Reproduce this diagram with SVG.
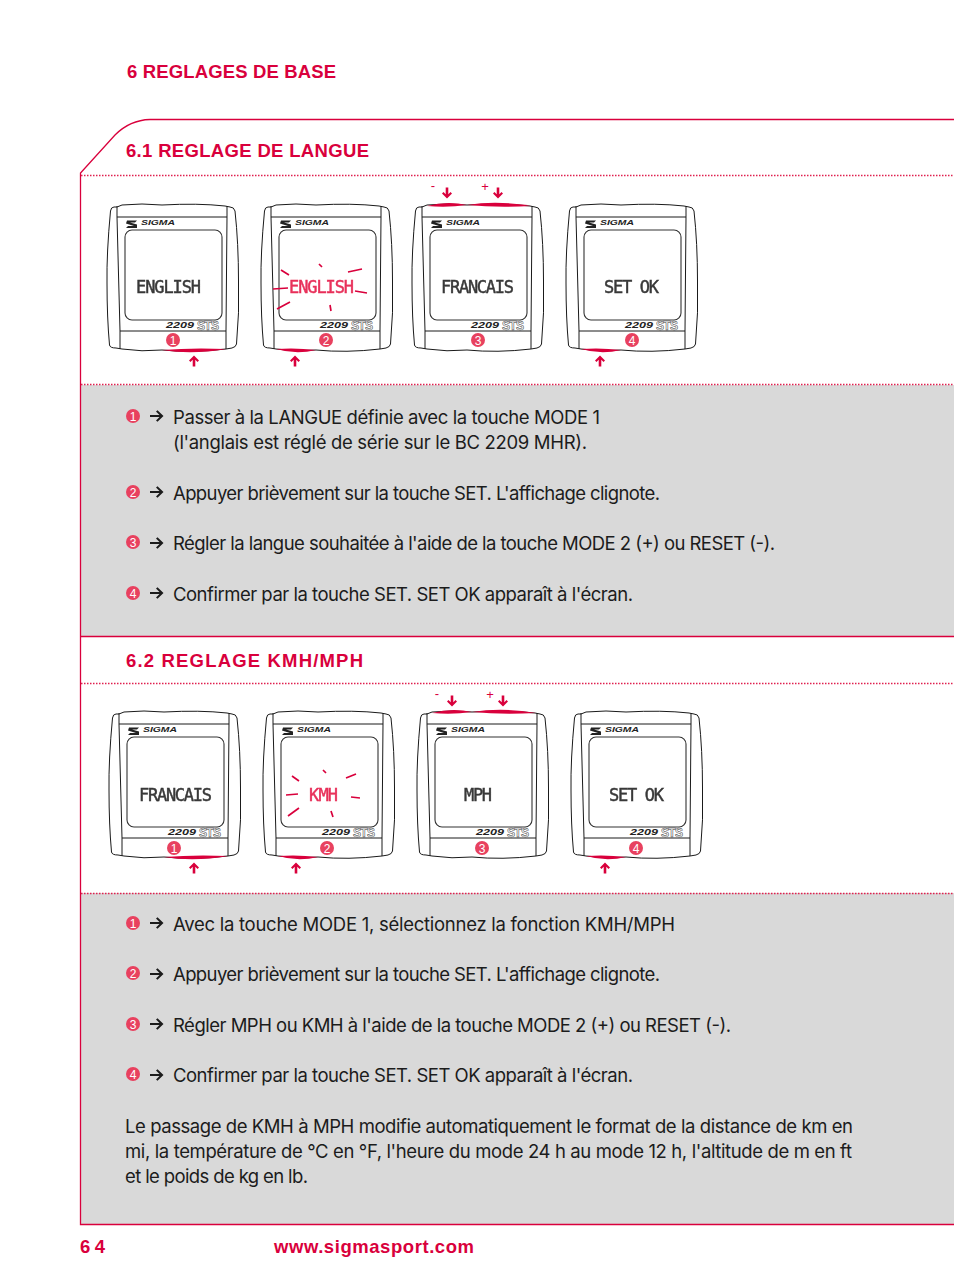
<svg xmlns="http://www.w3.org/2000/svg" width="954" height="1273" viewBox="0 0 954 1273">
<style>
text{font-family:"Inter","Liberation Sans",sans-serif}
.b{font-size:18.5px;fill:#1c1c1c}
.h{font-size:18.500px;font-weight:700;fill:#d9003c;font-family:"Liberation Sans",sans-serif}
.l{fill:none;stroke:#1a1a1a;stroke-width:1}
.s{fill:none;stroke:#333;stroke-width:1.1}
.r{fill:none;stroke:#d9003c;stroke-width:1.3}
.d{fill:none;stroke:#e0204f;stroke-width:1.500;stroke-dasharray:1.5 1.500}
.lcd{font-family:"DejaVu Sans Mono",monospace;font-size:17px;fill:#383838;stroke:#383838;stroke-width:.45;filter:url(#soft)}
.red{fill:#e8305a;stroke:#e8305a}
.sig{font-family:"Liberation Sans",sans-serif;font-size:7.500px;font-style:italic;font-weight:700;fill:#222}
.mod{font-family:"Liberation Sans",sans-serif;font-size:9.500px;font-style:italic;font-weight:700;fill:#222}
.sts{font-family:"Liberation Sans",sans-serif;font-size:12px;font-weight:700;fill:#fff;stroke:#333;stroke-width:.5}
.cn{font-family:"Liberation Sans",sans-serif;font-size:12px;fill:#fff;text-anchor:middle}
.c{fill:#e8415f}
.ray{fill:none;stroke:#d9003c;stroke-width:1.700}
.sign{font-size:13px;fill:#d9003c;text-anchor:middle;font-family:"Liberation Sans",sans-serif}
</style>
<defs>
<filter id="soft" x="-5%" y="-20%" width="110%" height="140%"><feGaussianBlur stdDeviation=".45"/></filter>
<g id="body">
<path class="l" d="M9,4 L6,4 Q3,4 2.500,8 Q-1.500,50 -1,80 Q-1,115 1.500,142 Q2,145 8,145 L14,146 Q34,149 54,147 Q84,150 118,146 L124,145 Q128,144 128.500,141 Q131.500,110 130.500,78 Q130.500,40 127,8 Q126,4 122,4 L117,3 Q90,0 54,2 Q34,0 14,2 L9,4"/>
<path class="l" d="M9,3 L9,14 L12,128 L12,146 M119,3 L119,14 L118,128 L118,146 M9,14 H119 M12,128 H118"/>
<rect class="s" x="17" y="27" width="97" height="90" rx="7"/>
<path d="M19,17.500 h10 l-2,2 h-5 l7,2 v3.500 h-11 l2,-2 h6 l-8,-2.500z" fill="#222"/>
</g>
<path id="up" d="M0,-5.500 L5,-.5 L3.500,1 L1.300,-1.200 V5.500 H-1.300 V-1.200 L-3.500,1 L-5,-.5Z" fill="#d9003c"/>
<path id="dn" d="M0,5.500 L5,.5 L3.500,-1 L1.300,1.200 V-5.500 H-1.300 V1.200 L-3.500,-1 L-5,.5Z" fill="#d9003c"/>
<path id="ar" d="M-1,-1 H8.500 L5,-4.500 L6.500,-5.800 L12.500,0 L6.500,5.800 L5,4.500 L8.500,1 H-1Z" fill="#1c1c1c"/>
<path id="tl" d="M14,3 Q34,-2.500 54,2 Q34,5 14,3Z" fill="#d9003c"/>
<path id="tr" d="M54,2 Q84,-3 118,3 Q84,5 54,2Z" fill="#d9003c"/>
<path id="bl" d="M14,146 Q34,152 54,147 Q34,144.500 14,146Z" fill="#d9003c"/>
<path id="br" d="M54,147 Q84,152 118,146 Q84,144.500 54,147Z" fill="#d9003c"/>
</defs>

<rect x="81" y="385" width="873" height="251" fill="#d9d9d9"/>
<rect x="81" y="893" width="873" height="331" fill="#d9d9d9"/>

<g id="frame">
<path class="r" d="M954,119.500 H150 Q130,120 115,135 L80.500,173 V1224.500 H954"/>
<path class="r" d="M81,636.500 H954" stroke-width="1.800"/>
<path class="d" d="M81,175.500 H954 M81,384.500 H954 M81,683.500 H954 M81,893.500 H954"/>
</g>

<text class="h" x="127" y="78" textLength="209">6 REGLAGES DE BASE</text>
<text class="h" x="126" y="157" textLength="243">6.1 REGLAGE DE LANGUE</text>
<text class="h" x="126" y="667" textLength="237">6.2 REGLAGE KMH/MPH</text>

<g id="d11" transform="translate(108,203)"><use href="#body"/><text class="sig" x="33" y="22" textLength="34" lengthAdjust="spacingAndGlyphs">SIGMA</text><text class="mod" x="58" y="125" textLength="28" lengthAdjust="spacingAndGlyphs">2209</text><text class="sts" x="89" y="127" textLength="22">STS</text><text class="lcd" x="28" y="90" textLength="65">ENGLISH</text>
<use href="#br"/><circle class="c" cx="65" cy="137" r="7"/><text class="cn" x="65" y="141.500">1</text></g>
<g id="d12" transform="translate(262,203)"><use href="#body"/><text class="sig" x="33" y="22" textLength="34" lengthAdjust="spacingAndGlyphs">SIGMA</text><text class="mod" x="58" y="125" textLength="28" lengthAdjust="spacingAndGlyphs">2209</text><text class="sts" x="89" y="127" textLength="22">STS</text><text class="lcd red" x="27" y="90" textLength="65">ENGLISH</text>
<use href="#bl"/><circle class="c" cx="64" cy="137" r="7"/><text class="cn" x="64" y="141.500">2</text></g>
<g id="d13" transform="translate(413,203)"><use href="#body"/><text class="sig" x="33" y="22" textLength="34" lengthAdjust="spacingAndGlyphs">SIGMA</text><text class="mod" x="58" y="125" textLength="28" lengthAdjust="spacingAndGlyphs">2209</text><text class="sts" x="89" y="127" textLength="22">STS</text><text class="lcd" x="28" y="90" textLength="73">FRANCAIS</text>
<use href="#tl"/><use href="#tr"/><circle class="c" cx="65" cy="137" r="7"/><text class="cn" x="65" y="141.500">3</text></g>
<g id="d14" transform="translate(567,203)"><use href="#body"/><text class="sig" x="33" y="22" textLength="34" lengthAdjust="spacingAndGlyphs">SIGMA</text><text class="mod" x="58" y="125" textLength="28" lengthAdjust="spacingAndGlyphs">2209</text><text class="sts" x="89" y="127" textLength="22">STS</text><text class="lcd" x="37" y="90" textLength="55">SET OK</text>
<use href="#bl"/><circle class="c" cx="65" cy="137" r="7"/><text class="cn" x="65" y="141.500">4</text></g>

<g id="d21" transform="translate(110,710)"><use href="#body"/><text class="sig" x="33" y="22" textLength="34" lengthAdjust="spacingAndGlyphs">SIGMA</text><text class="mod" x="58" y="125" textLength="28" lengthAdjust="spacingAndGlyphs">2209</text><text class="sts" x="89" y="127" textLength="22">STS</text><text class="lcd" x="29" y="91" textLength="73">FRANCAIS</text>
<use href="#br"/><circle class="c" cx="64" cy="138" r="7"/><text class="cn" x="64" y="142.500">1</text></g>
<g id="d22" transform="translate(264,710)"><use href="#body"/><text class="sig" x="33" y="22" textLength="34" lengthAdjust="spacingAndGlyphs">SIGMA</text><text class="mod" x="58" y="125" textLength="28" lengthAdjust="spacingAndGlyphs">2209</text><text class="sts" x="89" y="127" textLength="22">STS</text><text class="lcd red" x="45" y="91" textLength="29">KMH</text>
<use href="#bl"/><circle class="c" cx="63" cy="138" r="7"/><text class="cn" x="63" y="142.500">2</text></g>
<g id="d23" transform="translate(418,710)"><use href="#body"/><text class="sig" x="33" y="22" textLength="34" lengthAdjust="spacingAndGlyphs">SIGMA</text><text class="mod" x="58" y="125" textLength="28" lengthAdjust="spacingAndGlyphs">2209</text><text class="sts" x="89" y="127" textLength="22">STS</text><text class="lcd" x="46" y="91" textLength="28">MPH</text>
<use href="#tl"/><use href="#tr"/><circle class="c" cx="64" cy="138" r="7"/><text class="cn" x="64" y="142.500">3</text></g>
<g id="d24" transform="translate(572,710)"><use href="#body"/><text class="sig" x="33" y="22" textLength="34" lengthAdjust="spacingAndGlyphs">SIGMA</text><text class="mod" x="58" y="125" textLength="28" lengthAdjust="spacingAndGlyphs">2209</text><text class="sts" x="89" y="127" textLength="22">STS</text><text class="lcd" x="37" y="91" textLength="55">SET OK</text>
<use href="#bl"/><circle class="c" cx="64" cy="138" r="7"/><text class="cn" x="64" y="142.500">4</text></g>

<g id="flash">
<path class="ray" d="M281,270 L289,275 M319,264 L322,267 M348,272 L362,269 M273,289 L288,288 M355,291 L367,293 M277,309 L290,302 M330,305 L331,311"/>
<path class="ray" d="M292,776 L299,781 M323,770 L326,773 M346,778 L356,774 M286,795 L298,794 M351,797 L360,798 M288,816 L299,808 M331,811 L333,817"/>
</g>

<g id="connectors">
<use href="#up" x="194" y="361"/><use href="#up" x="295" y="361"/><use href="#up" x="600" y="361"/>
<use href="#up" x="194" y="868"/><use href="#up" x="296" y="868"/><use href="#up" x="605" y="868"/>
<use href="#dn" x="447" y="193"/><use href="#dn" x="498" y="193"/>
<use href="#dn" x="452" y="701"/><use href="#dn" x="503" y="701"/>
</g>
<text class="sign" x="433" y="190">-</text><text class="sign" x="485" y="191">+</text>
<text class="sign" x="437" y="698">-</text><text class="sign" x="490" y="699">+</text>

<g id="steps1">
<circle class="c" cx="133" cy="416" r="7"/><text class="cn" x="133" y="420.500">1</text><use href="#ar" x="151" y="416"/>
<text class="b" x="173" y="424" textLength="427">Passer à la LANGUE définie avec la touche MODE 1</text>
<text class="b" x="173" y="449" textLength="414">(l'anglais est réglé de série sur le BC 2209 MHR).</text>
<circle class="c" cx="133" cy="492" r="7"/><text class="cn" x="133" y="496.500">2</text><use href="#ar" x="151" y="492"/>
<text class="b" x="173" y="500" textLength="487">Appuyer brièvement sur la touche SET. L'affichage clignote.</text>
<circle class="c" cx="133" cy="542" r="7"/><text class="cn" x="133" y="546.500">3</text><use href="#ar" x="151" y="543"/>
<text class="b" x="173" y="550" textLength="602">Régler la langue souhaitée à l'aide de la touche MODE 2 (+) ou RESET (-).</text>
<circle class="c" cx="133" cy="593" r="7"/><text class="cn" x="133" y="597.500">4</text><use href="#ar" x="151" y="593"/>
<text class="b" x="173" y="601" textLength="460">Confirmer par la touche SET. SET OK apparaît à l'écran.</text>
</g>
<g id="steps2">
<circle class="c" cx="133" cy="923" r="7"/><text class="cn" x="133" y="927.500">1</text><use href="#ar" x="151" y="923"/>
<text class="b" x="173" y="931" textLength="502">Avec la touche MODE 1, sélectionnez la fonction KMH/MPH</text>
<circle class="c" cx="133" cy="973" r="7"/><text class="cn" x="133" y="977.500">2</text><use href="#ar" x="151" y="974"/>
<text class="b" x="173" y="981" textLength="487">Appuyer brièvement sur la touche SET. L'affichage clignote.</text>
<circle class="c" cx="133" cy="1024" r="7"/><text class="cn" x="133" y="1028.500">3</text><use href="#ar" x="151" y="1024"/>
<text class="b" x="173" y="1032" textLength="558">Régler MPH ou KMH à l'aide de la touche MODE 2 (+) ou RESET (-).</text>
<circle class="c" cx="133" cy="1074" r="7"/><text class="cn" x="133" y="1078.500">4</text><use href="#ar" x="151" y="1075"/>
<text class="b" x="173" y="1082" textLength="460">Confirmer par la touche SET. SET OK apparaît à l'écran.</text>
<text class="b" x="125" y="1133" textLength="728">Le passage de KMH à MPH modifie automatiquement le format de la distance de km en</text>
<text class="b" x="125" y="1158" textLength="727">mi, la température de °C en °F, l'heure du mode 24 h au mode 12 h, l'altitude de m en ft</text>
<text class="b" x="125" y="1183" textLength="183">et le poids de kg en lb.</text>
</g>
<text class="h" x="80" y="1253" textLength="25">64</text>
<text class="h" x="274" y="1253" textLength="200">www.sigmasport.com</text>
</svg>
